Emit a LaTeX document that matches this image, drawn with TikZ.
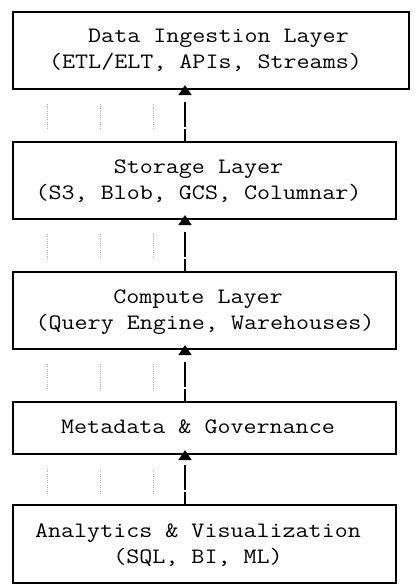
\documentclass[tikz,border=0pt]{standalone}
\usepackage{fontspec}
\newfontfamily\courlike{Latin Modern Mono}[FakeStretch=1.15]
\usetikzlibrary{arrows.meta}
\begin{document}
\begin{tikzpicture}[x=1pt,y=-1pt,
  layerbox/.style={draw=black,line width=2.2pt,rectangle,inner sep=0pt,fill=white},
  lbl/.style={anchor=base,inner sep=0pt,font=\courlike\fontsize{22}{26}\selectfont,text=black},
  conn/.style={line width=2pt,-{Triangle[width=13pt,length=10pt]},shorten >=-5pt,
    dash pattern=on 12pt off 2pt on 25pt off 40pt},
  guide/.style={draw=black!30,line width=0.7pt,dash pattern=on 1pt off 1.2pt}]
\useasboundingbox (0,0) rectangle (418,588);
\fill[white] (0,0) rectangle (418,588);
% boxes
\node[layerbox,minimum width=396pt,minimum height=77pt] (A) at (211,50.5) {};
\node[layerbox,minimum width=383pt,minimum height=77pt] (B) at (204.5,180.5) {};
\node[layerbox,minimum width=383pt,minimum height=77pt] (C) at (204.5,310.5) {};
\node[layerbox,minimum width=383pt,minimum height=52pt] (D) at (204.5,428) {};
\node[layerbox,minimum width=383pt,minimum height=78pt] (E) at (204.5,544) {};
% texts
\node[lbl] (a1) at (218.5,43) {Data Ingestion Layer};
\node[lbl] (a2) at (205.5,69) {(ETL/ELT, APIs, Streams)};
\node[lbl] (b1) at (198.5,173) {Storage Layer};
\node[lbl] (b2) at (198.5,199) {(S3, Blob, GCS, Columnar)};
\node[lbl] (c1) at (198,303) {Compute Layer};
\node[lbl] (c2) at (205,329) {(Query Engine, Warehouses)};
\node[lbl] (d1) at (198,433) {Metadata \& Governance};
\node[lbl] (e1) at (198,537) {Analytics \& Visualization};
\node[lbl] (e2) at (198,563) {(SQL, BI, ML)};
% guide dots
\foreach \u/\l in {A/B,B/C,C/D,D/E}{
  \foreach \gx in {47.5,100.5,153.5}{
    \draw[guide] ([yshift=-14pt]\u.south -| \gx,0) -- ([yshift=-39pt]\u.south -| \gx,0);
  }
}
% connectors
\coordinate (s) at (185,0);
\draw[conn] (B.north -| s) -- (A.south -| s);
\draw[conn] (C.north -| s) -- (B.south -| s);
\draw[conn] (D.north -| s) -- (C.south -| s);
\draw[conn] (E.north -| s) -- (D.south -| s);
\end{tikzpicture}
\end{document}
